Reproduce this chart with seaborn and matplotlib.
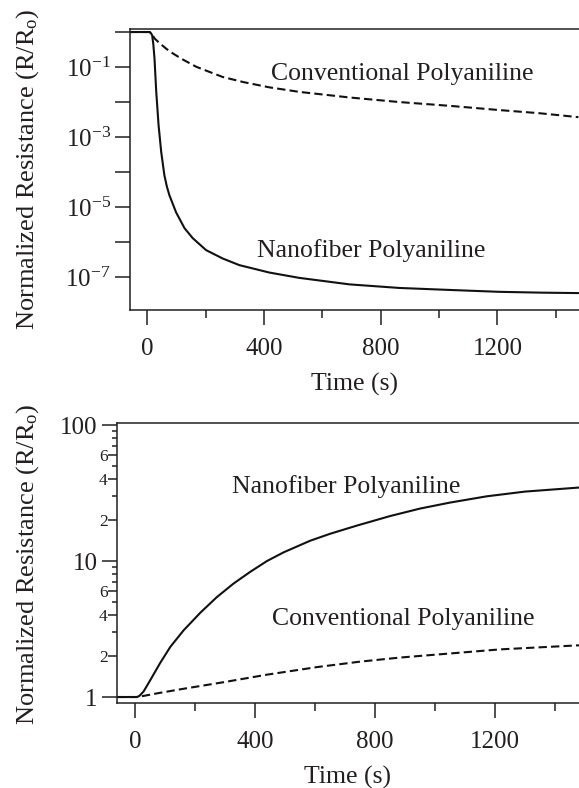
import numpy as np
import pandas as pd
import matplotlib
matplotlib.use("Agg")
import matplotlib.pyplot as plt
import matplotlib.ticker as mticker
import seaborn as sns

# ---------------- data ----------------
top_nano_t = [-60, 0, 7, 11, 16, 20, 24, 30, 38, 47, 58, 66, 75, 98, 127, 155, 201, 258, 315,
              418, 521, 693, 864, 1036, 1207, 1350, 1478]
top_nano_r = [1.0, 1.0, 1.0, 0.95, 0.81, 0.45, 0.18, 2.0e-2, 2.2e-3, 3.8e-4, 8.1e-5, 4.0e-5,
              2.2e-5, 7.1e-6, 2.5e-6, 1.3e-6, 5.9e-7, 3.4e-7, 2.2e-7, 1.35e-7, 9.5e-8, 6.2e-8,
              4.9e-8, 4.3e-8, 3.8e-8, 3.6e-8, 3.5e-8]

top_conv_t = [-60, 0, 7, 16, 24, 35, 50, 65, 87, 120, 167, 210, 258, 330, 418, 521, 693, 864,
              1036, 1207, 1344, 1478]
top_conv_r = [1.0, 1.0, 1.0, 0.87, 0.66, 0.54, 0.42, 0.33, 0.245, 0.166, 0.102, 0.074, 0.052,
              0.037, 0.0263, 0.0195, 0.0135, 0.010, 0.0078, 0.0059, 0.0048, 0.0037]

bot_nano_t = [-60, 0, 7, 15, 29, 51, 84, 118, 162, 218, 273, 329, 384, 440, 496, 584, 650, 739,
              850, 950, 1050, 1172, 1300, 1480]
bot_nano_r = [1.0, 1.0, 1.0, 1.02, 1.1, 1.33, 1.78, 2.34, 3.09, 4.17, 5.43, 6.84, 8.32, 10.0,
              11.6, 14.1, 15.85, 18.2, 21.4, 24.3, 26.9, 29.9, 32.4, 34.7]

bot_conv_t = [-60, 0, 7, 30, 80, 162, 300, 440, 607, 750, 883, 1050, 1217, 1350, 1480]
bot_conv_r = [1.0, 1.0, 1.0, 1.02, 1.07, 1.15, 1.29, 1.46, 1.66, 1.82, 1.95, 2.09, 2.24, 2.32, 2.4]

label_nano = "Nanofiber Polyaniline"
label_conv = "Conventional Polyaniline"
xlabel = "Time (s)"
ylabel = r"Normalized Resistance (R/R$_{\rm o}$)"
x_major_ticks = [0, 400, 800, 1200]
bottom_minor_labels = {2: "2", 4: "4", 6: "6", 20: "2", 40: "4", 60: "6"}

# ---------------- style ----------------
sns.set_theme(style="ticks")
INK = "#231f20"
plt.rcParams.update({
    "font.family": ["Liberation Serif", "DejaVu Serif"],
    "mathtext.fontset": "custom",
    "mathtext.rm": "Liberation Serif",
    "mathtext.it": "Liberation Serif:italic",
    "mathtext.bf": "Liberation Serif:bold",
    "axes.edgecolor": INK,
    "axes.linewidth": 1.1,
    "text.color": INK,
    "xtick.color": INK,
    "ytick.color": INK,
    "axes.labelcolor": INK,
})

fig = plt.figure(figsize=(5.79, 7.88), dpi=100)
ax1 = fig.add_axes([0.2245, 0.6066, 0.7755, 0.3566])
ax2 = fig.add_axes([0.202, 0.1079, 0.798, 0.3553])

LW = 1.5
DASH = (0, (4, 2))

def draw(ax, t, r, ls):
    df = pd.DataFrame({"t": t, "r": r})
    sns.lineplot(data=df, x="t", y="r", ax=ax, color="#111111", lw=LW,
                 linestyle=ls, estimator=None, sort=False, legend=False)

draw(ax1, top_nano_t, top_nano_r, "-")
draw(ax1, top_conv_t, top_conv_r, DASH)
draw(ax2, bot_nano_t, bot_nano_r, "-")
draw(ax2, bot_conv_t, bot_conv_r, DASH)

for ax in (ax1, ax2):
    ax.set_yscale("log")
    ax.set_xlim(-60, 1480)
    ax.spines["right"].set_visible(False)
    ax.xaxis.set_major_locator(mticker.FixedLocator(x_major_ticks))
    ax.xaxis.set_minor_locator(mticker.MultipleLocator(200))
    ax.tick_params(axis="x", which="major", direction="out", length=10.8, width=1.1,
                   labelsize=18, pad=9.5)
    ax.tick_params(axis="x", which="minor", direction="out", length=5.5, width=1.1)
    ax.tick_params(axis="y", which="major", direction="out", length=10.8, width=1.1,
                   labelsize=18, pad=3)
    ax.set_xlabel(xlabel, fontsize=18.5, labelpad=9)
    ax.set_ylabel(ylabel, fontsize=19)

# top axis
ax1.set_ylim(1.15e-8, 1.22)
ax1.yaxis.set_major_locator(mticker.FixedLocator([10.0 ** e for e in range(-7, 1)]))
ax1.yaxis.set_minor_locator(mticker.NullLocator())

def top_fmt(v, pos):
    e = int(round(np.log10(v)))
    if e % 2 == 0:
        return ""
    return r"$10^{%d}$" % e

ax1.yaxis.set_major_formatter(mticker.FuncFormatter(top_fmt))
ax1.yaxis.set_label_coords(-0.198, 0.5)

# bottom axis
ax2.set_ylim(0.904, 103.5)
ax2.yaxis.set_major_locator(mticker.FixedLocator([1, 10, 100]))
ax2.yaxis.set_major_formatter(mticker.FixedFormatter(["1", "10", "100"]))
minor_vals = [m * d for d in (1, 10) for m in range(2, 10)]
ax2.yaxis.set_minor_locator(mticker.FixedLocator(minor_vals))
ax2.yaxis.set_minor_formatter(mticker.FixedFormatter(
    [bottom_minor_labels.get(v, "") for v in minor_vals]))
ax2.tick_params(axis="y", which="minor", direction="out", length=3.6, width=1.1,
                labelsize=12.5, pad=3)
ax2.yaxis.set_label_coords(-0.165, 0.496)
fig.canvas.draw()
for tick, v in zip(ax2.yaxis.get_minor_ticks(), ax2.yaxis.get_minorticklocs()):
    if int(round(v)) in bottom_minor_labels:
        tick.tick1line.set_markersize(6.5)

# annotations
ax1.text(425, 0.0426, label_conv, fontsize=18.5, ha="left", va="baseline")
ax1.text(377, 3.7e-7, label_nano, fontsize=18.5, ha="left", va="baseline")
ax2.text(323, 31.6, label_nano, fontsize=18.5, ha="left", va="baseline")
ax2.text(457, 3.39, label_conv, fontsize=18.5, ha="left", va="baseline")

fig.savefig("out.png", dpi=100)
